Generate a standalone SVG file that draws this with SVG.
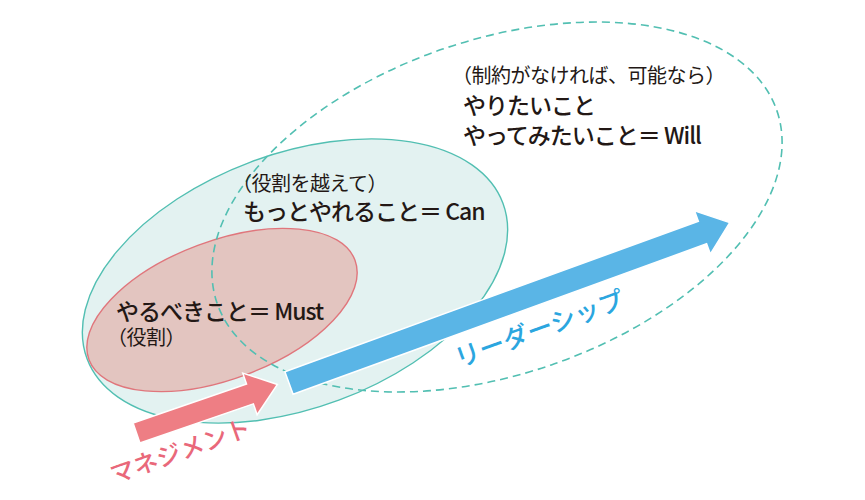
<svg xmlns="http://www.w3.org/2000/svg" width="865" height="500" viewBox="0 0 865 500">
  <style>
    .jp { font-family: "Noto Sans CJK JP", "Noto Sans", sans-serif; fill: #231815; }
    .main { font-size: 23px; font-weight: 500; letter-spacing: -1px; }
    .sub { font-size: 20px; font-weight: 400; letter-spacing: -0.5px; }
    .ell-can { fill: #e3f2f1; stroke: #52bfb2; stroke-width: 1.4; }
    .ell-must { fill: #e3c5c0; stroke: #e0767c; stroke-width: 1.4; }
    .ell-will { fill: none; stroke: #52bfb2; stroke-width: 1.6; stroke-dasharray: 8 5; }
    .arrow-blue { fill: #5ab5e6; stroke: #ffffff; stroke-width: 1.5; }
    .arrow-pink { fill: #ee7e84; stroke: #ffffff; stroke-width: 1.5; }
    .lbl-blue { font-family: "Noto Sans CJK JP", sans-serif; font-size: 25.5px; font-weight: 500; fill: #2ba6df; }
    .lbl-pink { font-family: "Noto Sans CJK JP", sans-serif; font-size: 24.5px; font-weight: 500; fill: #e9687a; }
  </style>
  <rect width="865" height="500" fill="#ffffff"/>

  <g id="node-can">
    <ellipse class="ell-can" cx="295" cy="281" rx="222" ry="127" transform="rotate(-20.5 295 281)"/>
  </g>
  <g id="node-must">
    <ellipse class="ell-must" cx="222" cy="310" rx="142" ry="69" transform="rotate(-20.5 222 310)"/>
  </g>
  <g id="node-will">
    <ellipse class="ell-will" cx="497" cy="207" rx="296" ry="167" transform="rotate(-19 497 207)"/>
  </g>

  <g id="connectors">
    <g id="arrow-leadership" transform="translate(289 383) rotate(-20)">
      <polygon class="arrow-blue" points="0,-12 440,-12 440,-23 469,0 440,23 440,12 0,12"/>
    </g>
    <g id="arrow-management" transform="translate(136.5 433) rotate(-19)">
      <polygon class="arrow-pink" points="0,-10.5 120,-10.5 120,-22 149,0 120,22 120,10.5 0,10.5"/>
    </g>
    <text class="lbl-blue" transform="translate(459 368) rotate(-20)">リーダーシップ</text>
    <text class="lbl-pink" transform="translate(114 484) rotate(-19.5)">マネジメント</text>
  </g>

  <g id="text-will">
    <text class="jp sub" x="452" y="83">（制約がなければ、可能なら）</text>
    <text class="jp main" x="463" y="114">やりたいこと</text>
    <text class="jp main" x="463" y="144">やってみたいこと＝ Will</text>
  </g>
  <g id="text-can">
    <text class="jp sub" x="232" y="191">（役割を越えて）</text>
    <text class="jp main" x="243" y="220">もっとやれること＝ Can</text>
  </g>
  <g id="text-must">
    <text class="jp main" x="116" y="320">やるべきこと＝ Must</text>
    <text class="jp sub" x="107" y="345">（役割）</text>
  </g>
</svg>
